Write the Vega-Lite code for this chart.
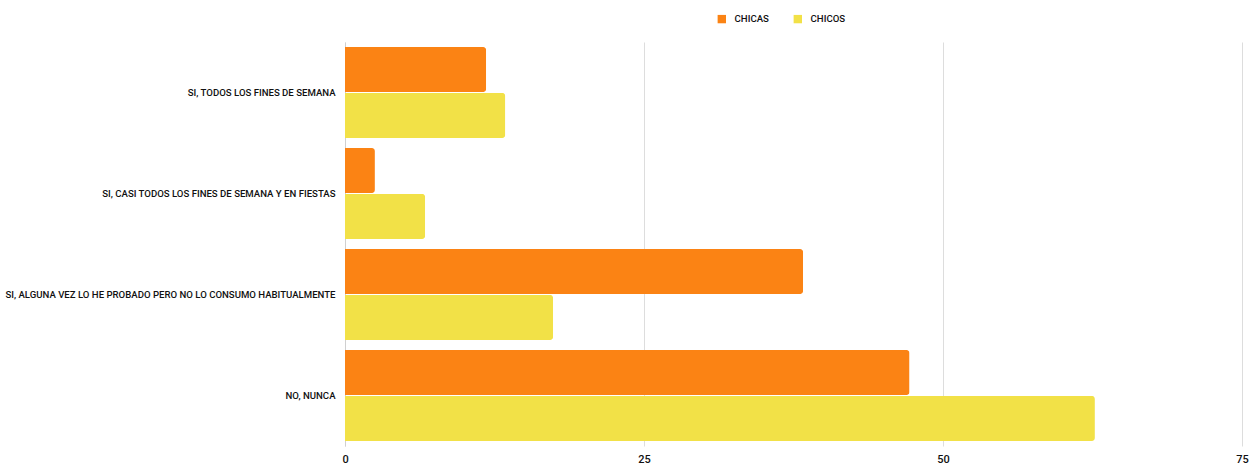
{
  "$schema": "https://vega.github.io/schema/vega-lite/v6.json",
  "autosize": {"type": "none"},
  "width": 897,
  "height": 404,
  "padding": {"left": 345, "top": 42, "right": 13, "bottom": 20},
  "background": "white",
  "data": {"values": [
    {"respuesta": "SI, TODOS LOS FINES DE SEMANA", "grupo": "CHICAS", "valor": 11.8},
    {"respuesta": "SI, TODOS LOS FINES DE SEMANA", "grupo": "CHICOS", "valor": 13.4},
    {"respuesta": "SI, CASI TODOS LOS FINES DE SEMANA Y EN FIESTAS", "grupo": "CHICAS", "valor": 2.5},
    {"respuesta": "SI, CASI TODOS LOS FINES DE SEMANA Y EN FIESTAS", "grupo": "CHICOS", "valor": 6.7},
    {"respuesta": "SI, ALGUNA VEZ LO HE PROBADO PERO NO LO CONSUMO HABITUALMENTE", "grupo": "CHICAS", "valor": 38.3},
    {"respuesta": "SI, ALGUNA VEZ LO HE PROBADO PERO NO LO CONSUMO HABITUALMENTE", "grupo": "CHICOS", "valor": 17.4},
    {"respuesta": "NO, NUNCA", "grupo": "CHICAS", "valor": 47.2},
    {"respuesta": "NO, NUNCA", "grupo": "CHICOS", "valor": 62.7}
  ]},
  "config": {
    "font": "Roboto",
    "view": {"stroke": null}
  },
  "mark": {"type": "bar", "cornerRadiusEnd": 3},
  "encoding": {
    "y": {
      "field": "respuesta", "type": "nominal", "sort": null, "title": null,
      "scale": {"paddingInner": 0.1, "paddingOuter": 0.05},
      "axis": {"ticks": false, "labelPadding": 10, "labelFontSize": 9.6, "labelFontWeight": 500, "labelColor": "#111", "domainColor": "#d0d0d0", "labelLimit": 400}
    },
    "yOffset": {"field": "grupo", "type": "nominal", "scale": {"paddingInner": 0.02}},
    "x": {
      "field": "valor", "type": "quantitative", "title": null,
      "scale": {"domain": [0, 75]},
      "axis": {"values": [0, 25, 50, 75], "ticks": false, "domain": false, "grid": true, "gridColor": "#dddddd", "labelFlush": false, "labelPadding": 7, "labelFontSize": 11, "labelFontWeight": 500, "labelColor": "#111"}
    },
    "color": {
      "field": "grupo", "type": "nominal", "title": null,
      "scale": {"domain": ["CHICAS", "CHICOS"], "range": ["#FB8314", "#F2E147"]},
      "legend": {"orient": "none", "direction": "horizontal", "legendX": 372, "legendY": -28, "symbolType": "square", "symbolSize": 70, "labelFontSize": 9.6, "labelFontWeight": 500, "labelColor": "#111", "labelOffset": 8, "columnPadding": 24, "symbolStrokeWidth": 0}
    }
  }
}
